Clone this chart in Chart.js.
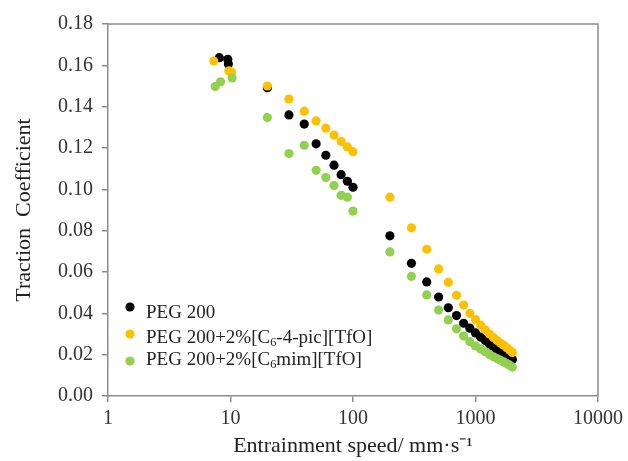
<!DOCTYPE html>
<html>
<head>
<meta charset="utf-8">
<script src="https://cdn.jsdelivr.net/npm/chart.js@4"></script>
<style>
  html, body { margin: 0; padding: 0; background: #fff; }
</style>
</head>
<body>
<canvas id="grafico" width="628" height="461"></canvas>
<script>
// speeds shared by all three series from 20 mm/s upward
const velocidades = [20, 30, 40, 50, 60, 70, 80, 90, 100, 200, 300, 400, 500, 600, 700, 800,
  900, 1000, 1100, 1200, 1300, 1400, 1500, 1600, 1700, 1800, 1900, 2000];

// first low-speed points differ per series
const velNegro = [8.1, 9.5, 9.6];
const tcNegroIni = [0.1637, 0.1629, 0.1607];
const velNaranja = [7.3, 9.7, 10.2];
const tcNaranjaIni = [0.1621, 0.1573, 0.1567];
const velVerde = [7.5, 8.3, 10.3];
const tcVerdeIni = [0.1497, 0.1520, 0.1539];

const tcNegro = [0.1492, 0.1360, 0.1316, 0.1220, 0.1165, 0.1117, 0.1071, 0.1039, 0.1010,
  0.0775, 0.0642, 0.0552, 0.0479, 0.0427, 0.0389, 0.0352,
  0.0328, 0.0305, 0.0285, 0.0268, 0.0252, 0.0236, 0.0222, 0.0212, 0.0203, 0.0195, 0.0186, 0.0177];
const tcNaranja = [0.1500, 0.1437, 0.1378, 0.1331, 0.1296, 0.1263, 0.1231, 0.1205, 0.1182,
  0.0962, 0.0814, 0.0710, 0.0615, 0.0550, 0.0487, 0.0440,
  0.0400, 0.0370, 0.0343, 0.0320, 0.0300, 0.0283, 0.0268, 0.0256, 0.0245, 0.0234, 0.0222, 0.0210];
const tcVerde = [0.1347, 0.1173, 0.1213, 0.1092, 0.1057, 0.1018, 0.0971, 0.0962, 0.0895,
  0.0697, 0.0579, 0.0489, 0.0416, 0.0368, 0.0325, 0.0290,
  0.0263, 0.0242, 0.0228, 0.0214, 0.0201, 0.0190, 0.0181, 0.0173, 0.0165, 0.0157, 0.0149, 0.0140];

const etiquetas = ["PEG 200", "PEG 200+2%[C_6-4-pic][TfO]", "PEG 200+2%[C_6mim][TfO]"];
const colores = ["#000000", "#FFC000", "#92D050"];
const ticksX = [1, 10, 100, 1000, 10000];

const FUENTE = "'Liberation Serif', 'Times New Roman', serif";

function puntos(velIni, tcIni, tc) {
  const xs = velIni.concat(velocidades);
  const ys = tcIni.concat(tc);
  return xs.map((x, i) => ({ x: x, y: ys[i] }));
}

function serie(i, data, orden) {
  return {
    label: etiquetas[i],
    data: data,
    backgroundColor: colores[i],
    borderWidth: 0,
    pointRadius: 4.6,
    pointHoverRadius: 4.6,
    order: orden
  };
}

// draw text with "_6" parts as subscripts
function textoConSubindice(ctx, texto, x, y, tam) {
  const partes = texto.split(/(_\d)/);
  partes.forEach(p => {
    if (p.startsWith("_")) {
      ctx.font = (tam * 0.65) + "px " + FUENTE;
      ctx.fillText(p.slice(1), x, y + tam * 0.18);
      x += ctx.measureText(p.slice(1)).width;
    } else {
      ctx.font = tam + "px " + FUENTE;
      ctx.fillText(p, x, y);
      x += ctx.measureText(p).width;
    }
  });
}

const marcoYLeyenda = {
  id: "marcoYLeyenda",
  afterDraw(chart) {
    const ctx = chart.ctx;
    const a = chart.chartArea;
    ctx.save();
    ctx.strokeStyle = "#8c8c8c";
    ctx.lineWidth = 1.5;
    ctx.beginPath();
    ctx.moveTo(a.left, a.top);
    ctx.lineTo(a.right, a.top);
    ctx.lineTo(a.right, a.bottom);
    ctx.stroke();

    // legend inside the plot, bottom-left
    const marcadores = [-89, -62, -35];
    const bases = [-78, -53, -31];
    chart.data.datasets.forEach((ds, i) => {
      ctx.fillStyle = ds.backgroundColor;
      ctx.beginPath();
      ctx.arc(a.left + 22, a.bottom + marcadores[i], 4.6, 0, Math.PI * 2);
      ctx.fill();
      ctx.fillStyle = "#222";
      ctx.textBaseline = "alphabetic";
      textoConSubindice(ctx, ds.label, a.left + 38, a.bottom + bases[i], 19);
    });
    ctx.restore();
  }
};

new Chart(document.getElementById("grafico"), {
  type: "scatter",
  data: {
    datasets: [
      serie(0, puntos(velNegro, tcNegroIni, tcNegro), 3),
      serie(1, puntos(velNaranja, tcNaranjaIni, tcNaranja), 2),
      serie(2, puntos(velVerde, tcVerdeIni, tcVerde), 1)
    ]
  },
  options: {
    responsive: false,
    animation: false,
    layout: { padding: { top: 24, right: 30, left: 0, bottom: 0 } },
    plugins: {
      legend: { display: false },
      tooltip: { enabled: false }
    },
    scales: {
      x: {
        type: "logarithmic",
        min: 1,
        max: 10000,
        afterBuildTicks: s => { s.ticks = ticksX.map(v => ({ value: v })); },
        afterFit: s => { s.height = 65; },
        grid: { drawOnChartArea: false, drawTicks: true, tickLength: 6, color: "#8c8c8c", lineWidth: 1.5 },
        border: { color: "#8c8c8c", width: 1.5 },
        ticks: {
          color: "#333",
          padding: 5,
          maxRotation: 0,
          font: { family: FUENTE, size: 20 },
          callback: v => String(v)
        },
        title: {
          display: true,
          text: "Entrainment speed/ mm·s⁻¹",
          color: "#222",
          font: { family: FUENTE, size: 22 },
          padding: { top: 0, bottom: 2 }
        }
      },
      y: {
        min: 0,
        max: 0.18,
        afterFit: s => { s.width = 108; },
        grid: { drawOnChartArea: false, drawTicks: true, tickLength: 6, color: "#8c8c8c", lineWidth: 1.5 },
        border: { color: "#8c8c8c", width: 1.5 },
        ticks: {
          stepSize: 0.02,
          color: "#333",
          padding: 9,
          font: { family: FUENTE, size: 20 },
          callback: v => Number(v).toFixed(2)
        },
        title: {
          display: true,
          text: "Traction  Coefficient",
          color: "#222",
          font: { family: FUENTE, size: 22 },
          padding: { top: 11, bottom: 0 }
        }
      }
    }
  },
  plugins: [marcoYLeyenda]
});
</script>
</body>
</html>
